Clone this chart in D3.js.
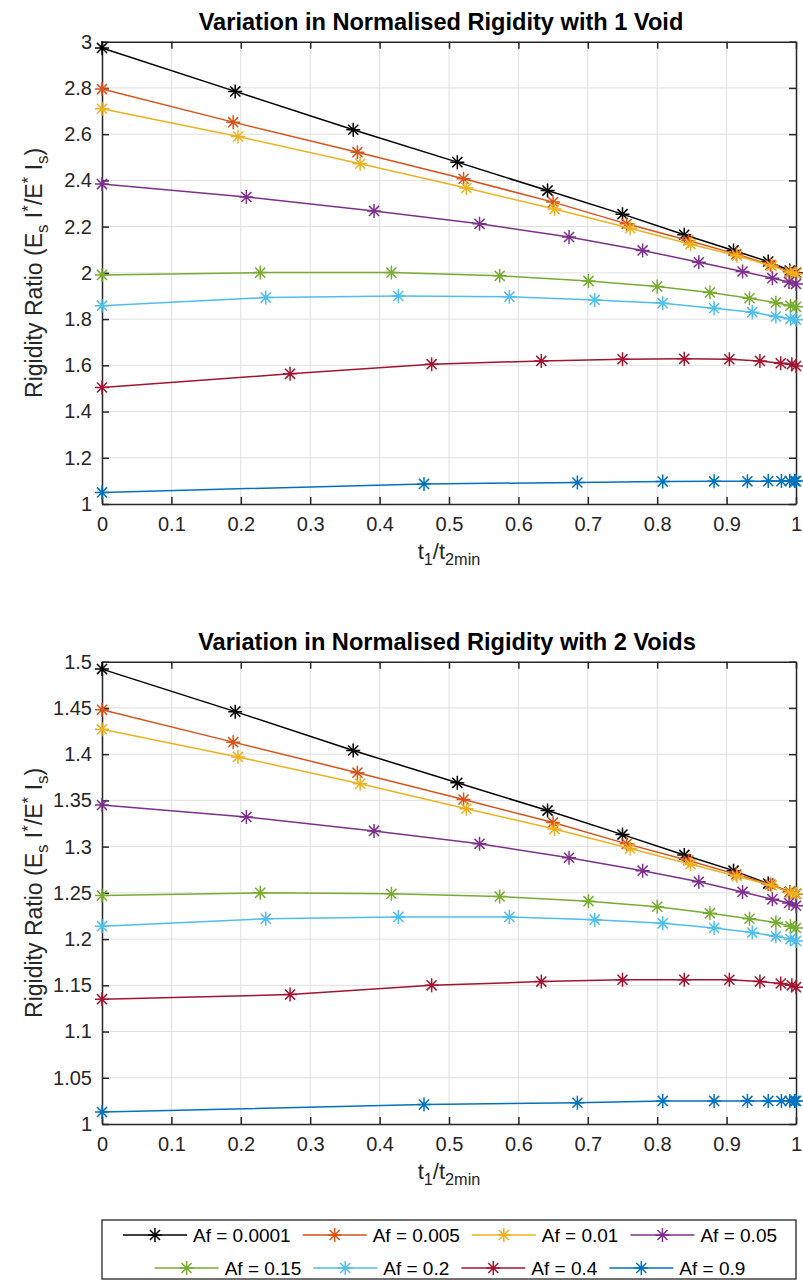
<!DOCTYPE html>
<html>
<head>
<meta charset="utf-8">
<script src="https://cdn.jsdelivr.net/npm/d3@7/dist/d3.min.js"></script>
<style>
  body { margin: 0; background: #fff; }
  svg { display: block; font-family: 'Liberation Sans', Arial, Helvetica, sans-serif; }
</style>
</head>
<body>
<script>
// legend entries, one per fill ratio
const afLabels = ['Af = 0.0001', 'Af = 0.005', 'Af = 0.01', 'Af = 0.05', 'Af = 0.15', 'Af = 0.2', 'Af = 0.4', 'Af = 0.9']
const lineColors = ['#000000', '#D95319', '#EDB120', '#7E2F8E', '#77AC30', '#4DBEEE', '#A2142F', '#0072BD']

const xTicks = [0, 0.1, 0.2, 0.3, 0.4, 0.5, 0.6, 0.7, 0.8, 0.9, 1]
const xTickLabels = ['0', '0.1', '0.2', '0.3', '0.4', '0.5', '0.6', '0.7', '0.8', '0.9', '1']
const yTicksOneVoid = [1, 1.2, 1.4, 1.6, 1.8, 2, 2.2, 2.4, 2.6, 2.8, 3]
const yTickLabelsOneVoid = ['1', '1.2', '1.4', '1.6', '1.8', '2', '2.2', '2.4', '2.6', '2.8', '3']
const yTicksTwoVoids = [1, 1.05, 1.1, 1.15, 1.2, 1.25, 1.3, 1.35, 1.4, 1.45, 1.5]
const yTickLabelsTwoVoids = ['1', '1.05', '1.1', '1.15', '1.2', '1.25', '1.3', '1.35', '1.4', '1.45', '1.5']

// t1/t2min sample points for each Af
const t1Af0001 = [0, 0.192, 0.362, 0.512, 0.642, 0.750, 0.839, 0.910, 0.960, 0.991, 1]
const t1Af005 = [0, 0.189, 0.368, 0.521, 0.650, 0.756, 0.845, 0.914, 0.963, 0.991, 1]
const t1Af01 = [0, 0.196, 0.372, 0.525, 0.652, 0.761, 0.848, 0.915, 0.965, 0.992, 1]
const t1Af05 = [0, 0.208, 0.392, 0.544, 0.673, 0.779, 0.860, 0.923, 0.966, 0.990, 1]
const t1Af15 = [0, 0.228, 0.417, 0.573, 0.701, 0.800, 0.876, 0.933, 0.971, 0.992, 1]
const t1Af2 = [0, 0.236, 0.427, 0.587, 0.710, 0.808, 0.882, 0.937, 0.971, 0.992, 1]
const t1Af4 = [0, 0.271, 0.475, 0.633, 0.750, 0.839, 0.904, 0.948, 0.978, 0.994, 1]
const t1Af9 = [0, 0.464, 0.685, 0.808, 0.882, 0.930, 0.960, 0.979, 0.991, 0.998, 1]

// rigidity ratio, 1 void
const oneVoidAf0001 = [2.973, 2.785, 2.619, 2.479, 2.356, 2.254, 2.165, 2.097, 2.049, 2.010, 2.000]
const oneVoidAf005 = [2.795, 2.652, 2.522, 2.407, 2.306, 2.212, 2.140, 2.081, 2.035, 2.005, 1.998]
const oneVoidAf01 = [2.710, 2.590, 2.472, 2.367, 2.276, 2.193, 2.124, 2.074, 2.030, 2.000, 1.995]
const oneVoidAf05 = [2.384, 2.328, 2.268, 2.212, 2.155, 2.097, 2.046, 2.006, 1.977, 1.960, 1.952]
const oneVoidAf15 = [1.991, 2.001, 2.001, 1.987, 1.965, 1.941, 1.915, 1.890, 1.871, 1.858, 1.853]
const oneVoidAf2 = [1.858, 1.893, 1.900, 1.897, 1.883, 1.869, 1.847, 1.830, 1.811, 1.801, 1.797]
const oneVoidAf4 = [1.504, 1.563, 1.605, 1.619, 1.626, 1.628, 1.626, 1.619, 1.609, 1.605, 1.597]
const oneVoidAf9 = [1.050, 1.087, 1.093, 1.097, 1.098, 1.098, 1.099, 1.099, 1.099, 1.099, 1.099]

// rigidity ratio, 2 voids
const twoVoidsAf0001 = [1.492, 1.446, 1.404, 1.369, 1.339, 1.313, 1.291, 1.274, 1.260, 1.251, 1.249]
const twoVoidsAf005 = [1.448, 1.413, 1.380, 1.351, 1.326, 1.303, 1.285, 1.270, 1.259, 1.251, 1.249]
const twoVoidsAf01 = [1.427, 1.397, 1.368, 1.341, 1.319, 1.298, 1.281, 1.268, 1.258, 1.250, 1.249]
const twoVoidsAf05 = [1.345, 1.332, 1.317, 1.303, 1.288, 1.274, 1.262, 1.251, 1.243, 1.239, 1.236]
const twoVoidsAf15 = [1.247, 1.250, 1.249, 1.246, 1.241, 1.235, 1.228, 1.222, 1.218, 1.214, 1.212]
const twoVoidsAf2 = [1.214, 1.222, 1.224, 1.224, 1.221, 1.217, 1.212, 1.207, 1.203, 1.200, 1.198]
const twoVoidsAf4 = [1.135, 1.140, 1.150, 1.154, 1.156, 1.156, 1.156, 1.154, 1.152, 1.150, 1.148]
const twoVoidsAf9 = [1.013, 1.021, 1.023, 1.025, 1.025, 1.025, 1.025, 1.025, 1.025, 1.025, 1.025]

const t1Series = [t1Af0001, t1Af005, t1Af01, t1Af05, t1Af15, t1Af2, t1Af4, t1Af9]
const oneVoidSeries = [oneVoidAf0001, oneVoidAf005, oneVoidAf01, oneVoidAf05, oneVoidAf15, oneVoidAf2, oneVoidAf4, oneVoidAf9]
const twoVoidsSeries = [twoVoidsAf0001, twoVoidsAf005, twoVoidsAf01, twoVoidsAf05, twoVoidsAf15, twoVoidsAf2, twoVoidsAf4, twoVoidsAf9]

const AXIS_COLOR = '#262626'
const GRID_COLOR = '#dfdfdf'
const MARKER_R = 7
const LINE_W = 1.5

// matlab style '*' marker, a plus and a cross on top of each other
function asterisk (r) {
  const d = r * 0.72
  return `M${-r},0L${r},0M0,${-r}L0,${r}M${-d},${-d}L${d},${d}M${-d},${d}L${d},${-d}`
}

// writes text made of normal / sub / sup pieces into a text node
function richText (textSel, parts) {
  let shift = 0
  parts.forEach(([str, kind]) => {
    const target = kind === 'sub' ? 6 : kind === 'sup' ? -8 : 0
    textSel.append('tspan')
      .attr('dy', target - shift)
      .style('font-size', kind ? '0.74em' : null)
      .text(str)
    shift = target
  })
}

class RigidityPanel {
  constructor (svg, top, bottom) {
    this.svg = svg
    this.top = top
    this.bottom = bottom
    this.left = 102
    this.right = 796
  }

  draw (title, titleX, yTicks, yTickLabels, ySeries) {
    const g = this.svg.append('g')
    const x = d3.scaleLinear().domain([0, 1]).range([this.left, this.right])
    const y = d3.scaleLinear().domain([yTicks[0], yTicks[yTicks.length - 1]]).range([this.bottom, this.top])

    // grid
    g.append('g').selectAll('line.vx')
      .data(xTicks.slice(1, -1))
      .enter().append('line')
      .attr('x1', d => x(d)).attr('x2', d => x(d))
      .attr('y1', this.top).attr('y2', this.bottom)
      .attr('stroke', GRID_COLOR).attr('stroke-width', 1)
    g.append('g').selectAll('line.hy')
      .data(yTicks.slice(1, -1))
      .enter().append('line')
      .attr('x1', this.left).attr('x2', this.right)
      .attr('y1', d => y(d)).attr('y2', d => y(d))
      .attr('stroke', GRID_COLOR).attr('stroke-width', 1)

    // axes on all 4 sides, ticks pointing in
    const xAxis = d3.axisBottom(x).tickValues(xTicks).tickSizeInner(-7).tickSizeOuter(0)
      .tickFormat((d, i) => xTickLabels[i]).tickPadding(13)
    const yAxis = d3.axisLeft(y).tickValues(yTicks).tickSizeInner(-7).tickSizeOuter(0)
      .tickFormat((d, i) => yTickLabels[i]).tickPadding(10)
    const xTop = d3.axisTop(x).tickValues(xTicks).tickSizeInner(-7).tickSizeOuter(0).tickFormat('')
    const yRight = d3.axisRight(y).tickValues(yTicks).tickSizeInner(-7).tickSizeOuter(0).tickFormat('')

    const axes = [
      [xAxis, `translate(0,${this.bottom})`],
      [yAxis, `translate(${this.left},0)`],
      [xTop, `translate(0,${this.top})`],
      [yRight, `translate(${this.right},0)`]
    ]
    axes.forEach(([ax, tr]) => {
      const a = g.append('g').attr('transform', tr).call(ax)
      a.select('.domain').attr('stroke', AXIS_COLOR).attr('stroke-width', 1.5)
      a.selectAll('.tick line').attr('stroke', AXIS_COLOR).attr('stroke-width', 1.5)
      a.selectAll('.tick text')
        .attr('fill', AXIS_COLOR)
        .style('font-size', '20px')
        .style('font-family', "'Liberation Sans', Arial, Helvetica, sans-serif")
    })

    // series
    const line = d3.line()
      .x(d => x(d[0]))
      .y(d => y(d[1]))

    ySeries.forEach((vals, i) => {
      const pts = t1Series[i].map((t, j) => [t, vals[j]])
      const sg = g.append('g').attr('class', 'series')
      sg.append('path')
        .datum(pts)
        .attr('d', line)
        .attr('fill', 'none')
        .attr('stroke', lineColors[i])
        .attr('stroke-width', LINE_W)
      sg.selectAll('path.mk')
        .data(pts)
        .enter().append('path')
        .attr('class', 'mk')
        .attr('transform', d => `translate(${x(d[0])},${y(d[1])})`)
        .attr('d', asterisk(MARKER_R))
        .attr('fill', 'none')
        .attr('stroke', lineColors[i])
        .attr('stroke-width', LINE_W)
    })

    // title
    g.append('text')
      .attr('x', titleX)
      .attr('y', this.top - 12)
      .attr('text-anchor', 'middle')
      .style('font-size', '23.6px')
      .style('font-weight', 'bold')
      .attr('fill', '#000')
      .text(title)

    // x label t1/t2min
    const xl = g.append('text')
      .attr('x', (this.left + this.right) / 2)
      .attr('y', this.bottom + 55)
      .attr('text-anchor', 'middle')
      .style('font-size', '22px')
      .attr('fill', AXIS_COLOR)
    richText(xl, [['t'], ['1', 'sub'], ['/t'], ['2min', 'sub']])

    // y label
    const yl = g.append('text')
      .attr('transform', `translate(42,${(this.top + this.bottom) / 2}) rotate(-90)`)
      .attr('text-anchor', 'middle')
      .style('font-size', '23px')
      .attr('fill', AXIS_COLOR)
    richText(yl, [['Rigidity Ratio (E'], ['s', 'sub'], [' I'], ['*', 'sup'], ['/E'], ['*', 'sup'], [' I'], ['s', 'sub'], [')']])
  }
}

class Legend {
  constructor (svg) {
    this.svg = svg
  }

  draw (rows) {
    const left = 102
    const right = 796
    const g = this.svg.append('g')
    g.append('rect')
      .attr('x', left).attr('y', 1220)
      .attr('width', right - left).attr('height', 59)
      .attr('fill', '#fff')
      .attr('stroke', AXIS_COLOR)
      .attr('stroke-width', 1.3)

    rows.forEach((idxs, r) => {
      const cy = 1235 + r * 33
      const rowG = g.append('g')
      let cursor = 0
      idxs.forEach((i, k) => {
        const it = rowG.append('g').attr('transform', `translate(${cursor},0)`)
        it.append('line')
          .attr('x1', 0).attr('x2', 64).attr('y1', cy).attr('y2', cy)
          .attr('stroke', lineColors[i]).attr('stroke-width', LINE_W)
        it.append('path')
          .attr('transform', `translate(32,${cy})`)
          .attr('d', asterisk(MARKER_R))
          .attr('fill', 'none')
          .attr('stroke', lineColors[i]).attr('stroke-width', LINE_W)
        const t = it.append('text')
          .attr('x', 70).attr('y', cy + 7)
          .style('font-size', '19px')
          .attr('fill', '#000')
          .text(afLabels[i])
        cursor += 70 + t.node().getComputedTextLength() + (k < idxs.length - 1 ? 12 : 0)
      })
      // centre the row inside the box
      const offset = (left + right) / 2 + 1 - cursor / 2
      rowG.attr('transform', `translate(${offset},0)`)
    })
  }
}

const svg = d3.select('body').append('svg')
  .attr('width', 803)
  .attr('height', 1280)

svg.append('rect').attr('width', 803).attr('height', 1280).attr('fill', '#fff')

const topPanel = new RigidityPanel(svg, 41.7, 504)
topPanel.draw('Variation in Normalised Rigidity with 1 Void', 441, yTicksOneVoid, yTickLabelsOneVoid, oneVoidSeries)

const bottomPanel = new RigidityPanel(svg, 661.7, 1124)
bottomPanel.draw('Variation in Normalised Rigidity with 2 Voids', 447, yTicksTwoVoids, yTickLabelsTwoVoids, twoVoidsSeries)

const legend = new Legend(svg)
legend.draw([[0, 1, 2, 3], [4, 5, 6, 7]])
</script>
</body>
</html>
